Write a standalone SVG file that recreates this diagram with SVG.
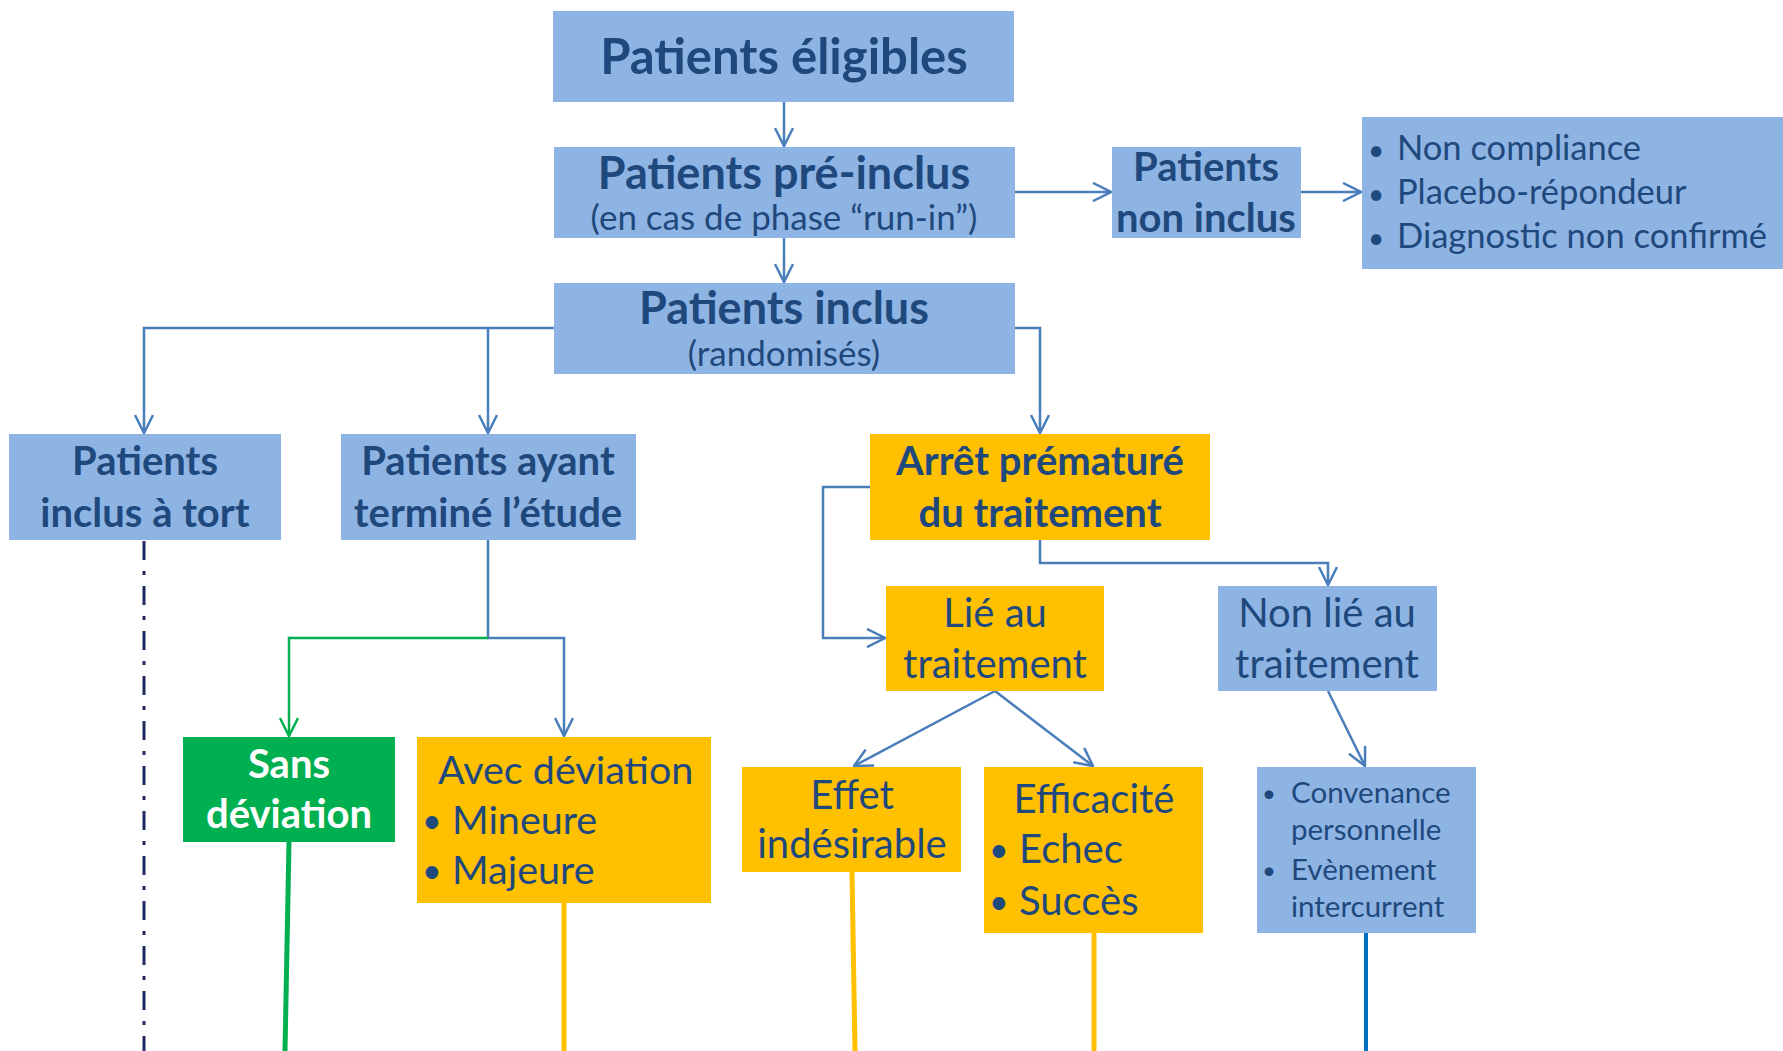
<svg xmlns="http://www.w3.org/2000/svg" width="1783" height="1051" viewBox="0 0 1783 1051">
<style>
.blue{fill:#8EB4E3}
.yel{fill:#FFC000}
.grn{fill:#00B050}
text{font-family:Lato,"Open Sans","Liberation Sans",sans-serif;fill:#1F497D}
.b{font-weight:bold}
.c{text-anchor:middle}
.w{fill:#FFFFFF}
.con{fill:none;stroke:#4A7EBB;stroke-width:2.5}
.gcon{fill:none;stroke:#00B050;stroke-width:2.5}
</style>
<defs>
<marker id="arr" viewBox="0 0 20 20" refX="19" refY="10" markerWidth="20" markerHeight="20" markerUnits="userSpaceOnUse" orient="auto">
<path d="M1,1 L19,10 L1,19" fill="none" stroke="#4A7EBB" stroke-width="2.5"/>
</marker>
<marker id="garr" viewBox="0 0 20 20" refX="19" refY="10" markerWidth="20" markerHeight="20" markerUnits="userSpaceOnUse" orient="auto">
<path d="M1,1 L19,10 L1,19" fill="none" stroke="#00B050" stroke-width="2.5"/>
</marker>
</defs>

<g id="connectors">
<line class="con" x1="784" y1="102" x2="784" y2="146" marker-end="url(#arr)"/>
<line class="con" x1="784" y1="238" x2="784" y2="282" marker-end="url(#arr)"/>
<line class="con" x1="1015" y1="192" x2="1111" y2="192" marker-end="url(#arr)"/>
<line class="con" x1="1301" y1="192" x2="1361" y2="192" marker-end="url(#arr)"/>
<polyline class="con" points="554,328 144,328 144,433" marker-end="url(#arr)"/>
<line class="con" x1="488" y1="328" x2="488" y2="433" marker-end="url(#arr)"/>
<polyline class="con" points="1015,328 1040,328 1040,433" marker-end="url(#arr)"/>
<line x1="144" y1="541" x2="144" y2="1051" stroke="#1F2A5C" stroke-width="3" stroke-dasharray="19,11,4,11"/>
<polyline class="con" points="488,540 488,638 564,638 564,736" marker-end="url(#arr)"/>
<polyline class="gcon" points="488,638 289,638 289,736" marker-end="url(#garr)"/>
<polyline class="con" points="870,487 823,487 823,638 885,638" marker-end="url(#arr)"/>
<polyline class="con" points="1040,540 1040,563 1328,563 1328,585" marker-end="url(#arr)"/>
<line class="con" x1="995" y1="691" x2="854" y2="766" marker-end="url(#arr)"/>
<line class="con" x1="995" y1="691" x2="1093" y2="766" marker-end="url(#arr)"/>
<line class="con" x1="1328" y1="691" x2="1365" y2="766" marker-end="url(#arr)"/>
<line x1="289" y1="842" x2="285" y2="1051" stroke="#00B050" stroke-width="5"/>
<line x1="564" y1="903" x2="564" y2="1051" stroke="#FFC000" stroke-width="5"/>
<line x1="852" y1="872" x2="855" y2="1051" stroke="#FFC000" stroke-width="5"/>
<line x1="1094" y1="933" x2="1094" y2="1051" stroke="#FFC000" stroke-width="5"/>
<line x1="1366" y1="933" x2="1366" y2="1051" stroke="#0070C0" stroke-width="4"/>
</g>

<g id="eligibles">
<rect class="blue" x="553" y="11" width="461" height="91"/>
<text class="b c" x="784" y="74" font-size="49">Patients éligibles</text>
</g>
<g id="preinclus">
<rect class="blue" x="554" y="147" width="461" height="91"/>
<text class="b c" x="784" y="189" font-size="45">Patients pré-inclus</text>
<text class="c" x="784" y="230" font-size="35">(en cas de phase “run-in”)</text>
</g>
<g id="inclus">
<rect class="blue" x="554" y="283" width="461" height="91"/>
<text class="b c" x="784" y="324" font-size="45">Patients inclus</text>
<text class="c" x="784" y="366" font-size="35">(randomisés)</text>
</g>
<g id="noninclus">
<rect class="blue" x="1112" y="147" width="189" height="91"/>
<text class="b c" x="1206" y="181" font-size="40">Patients</text>
<text class="b c" x="1206" y="232" font-size="40">non inclus</text>
</g>
<g id="raisons">
<rect class="blue" x="1362" y="117" width="421" height="152"/>
<text x="1368" y="160" font-size="28">•</text>
<text x="1397" y="160" font-size="34.5">Non compliance</text>
<text x="1368" y="204" font-size="28">•</text>
<text x="1397" y="204" font-size="34.5">Placebo-répondeur</text>
<text x="1368" y="248" font-size="28">•</text>
<text x="1397" y="248" font-size="34.5">Diagnostic non confirmé</text>
</g>
<g id="tort">
<rect class="blue" x="9" y="434" width="272" height="106"/>
<text class="b c" x="145" y="475" font-size="40">Patients</text>
<text class="b c" x="145" y="527" font-size="40">inclus à tort</text>
</g>
<g id="termine">
<rect class="blue" x="341" y="434" width="295" height="106"/>
<text class="b c" x="488" y="475" font-size="40">Patients ayant</text>
<text class="b c" x="488" y="527" font-size="40">terminé l’étude</text>
</g>
<g id="arret">
<rect class="yel" x="870" y="434" width="340" height="106"/>
<text class="b c" x="1040" y="475" font-size="40">Arrêt prématuré</text>
<text class="b c" x="1040" y="527" font-size="40">du traitement</text>
</g>
<g id="lie">
<rect class="yel" x="886" y="586" width="218" height="105"/>
<text class="c" x="995" y="627" font-size="40">Lié au</text>
<text class="c" x="995" y="678" font-size="40">traitement</text>
</g>
<g id="nonlie">
<rect class="blue" x="1218" y="586" width="219" height="105"/>
<text class="c" x="1327" y="627" font-size="40">Non lié au</text>
<text class="c" x="1327" y="678" font-size="40">traitement</text>
</g>
<g id="sans">
<rect class="grn" x="183" y="737" width="212" height="105"/>
<text class="b c w" x="289" y="778" font-size="40">Sans</text>
<text class="b c w" x="289" y="828" font-size="40">déviation</text>
</g>
<g id="avec">
<rect class="yel" x="417" y="737" width="294" height="166"/>
<text x="438" y="784" font-size="39.5">Avec déviation</text>
<text x="422" y="833" font-size="34">•</text>
<text x="452" y="834" font-size="39.5">Mineure</text>
<text x="422" y="883" font-size="34">•</text>
<text x="452" y="884" font-size="39.5">Majeure</text>
</g>
<g id="effet">
<rect class="yel" x="742" y="767" width="219" height="105"/>
<text class="c" x="852" y="809" font-size="40">Effet</text>
<text class="c" x="852" y="858" font-size="40">indésirable</text>
</g>
<g id="efficacite">
<rect class="yel" x="984" y="767" width="219" height="166"/>
<text class="c" x="1094" y="813" font-size="40">Efficacité</text>
<text x="989" y="862" font-size="34">•</text>
<text x="1019" y="863" font-size="40">Echec</text>
<text x="989" y="914" font-size="34">•</text>
<text x="1019" y="915" font-size="40">Succès</text>
</g>
<g id="convenance">
<rect class="blue" x="1257" y="767" width="219" height="166"/>
<text x="1262" y="802" font-size="24">•</text>
<text x="1291" y="803" font-size="29.5">Convenance</text>
<text x="1291" y="840" font-size="29.5">personnelle</text>
<text x="1262" y="879" font-size="24">•</text>
<text x="1291" y="880" font-size="29.5">Evènement</text>
<text x="1291" y="917" font-size="29.5">intercurrent</text>
</g>
</svg>
